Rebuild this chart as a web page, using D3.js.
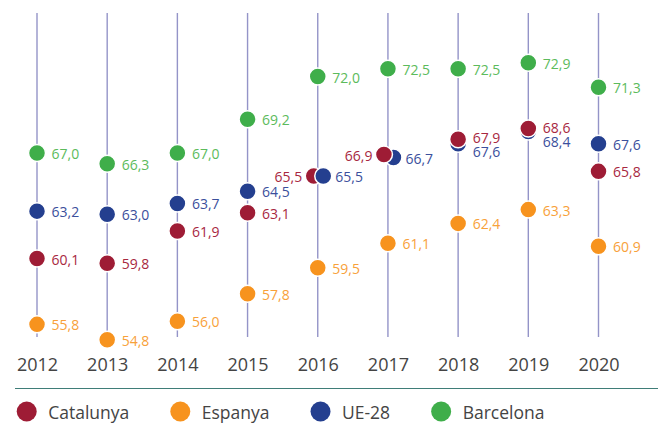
<!DOCTYPE html>
<html>
<head>
<meta charset="utf-8">
<script src="https://cdn.jsdelivr.net/npm/d3@7"></script>
<style>
  html, body { margin: 0; padding: 0; background: #fff; }
  svg { display: block; font-family: "Open Sans", sans-serif; }
</style>
</head>
<body>
<svg id="chart" width="662" height="423"></svg>
<script>
// ---- data ----
const years = ["2012", "2013", "2014", "2015", "2016", "2017", "2018", "2019", "2020"];
const catalunya = [60.1, 59.8, 61.9, 63.1, 65.5, 66.9, 67.9, 68.6, 65.8];
const espanya   = [55.8, 54.8, 56.0, 57.8, 59.5, 61.1, 62.4, 63.3, 60.9];
const ue28      = [63.2, 63.0, 63.7, 64.5, 65.5, 66.7, 67.6, 68.4, 67.6];
const barcelona = [67.0, 66.3, 67.0, 69.2, 72.0, 72.5, 72.5, 72.9, 71.3];
const seriesNames = ["Catalunya", "Espanya", "UE-28", "Barcelona"];

// ---- styles / layout ----
const circleColors = { "Catalunya": "#9e1c35", "Espanya": "#f7931e", "UE-28": "#243f8f", "Barcelona": "#3fae4a" };
const labelColors  = { "Catalunya": "#a8283f", "Espanya": "#f8a13a", "UE-28": "#3b4f9c", "Barcelona": "#5cbb5c" };
const sideBySideYears = new Set(["2016", "2017"]); // overlapping pairs drawn side by side

const svg = d3.select("#chart");
const x = d3.scalePoint().domain(years).range([37, 598.5]);
const y = d3.scaleLinear().domain([54, 74]).range([351.9, 45.9]);

const locale = d3.formatLocale({ decimal: ",", thousands: ".", grouping: [3], currency: ["", "€"] });
const fmt = locale.format(".1f");

// vertical guide lines
svg.append("g").selectAll("line").data(years).join("line")
  .attr("x1", d => x(d)).attr("x2", d => x(d))
  .attr("y1", 13).attr("y2", 337)
  .attr("stroke", "#9494c8").attr("stroke-width", 1.4);

// year axis labels
const xAxis = d3.axisBottom(x).tickSize(0).tickPadding(0);
const gx = svg.append("g").attr("transform", "translate(0,354.5)").call(xAxis);
gx.select(".domain").remove();
gx.selectAll("text").attr("font-size", 18).attr("fill", "#444").attr("font-weight", 400)
  .attr("font-family", "'Open Sans', sans-serif").attr("dy", "0.9em");

// build points
const seriesData = { "Catalunya": catalunya, "Espanya": espanya, "UE-28": ue28, "Barcelona": barcelona };
const R = 8.5;
let points = [];
years.forEach((yr, i) => {
  const cx0 = x(yr);
  const pts = {};
  seriesNames.forEach(s => {
    pts[s] = { year: yr, series: s, value: seriesData[s][i], cx: cx0, cy: y(seriesData[s][i]),
               anchor: "start", lx: cx0 + 14.5, ly: y(seriesData[s][i]) + 0.5, order: 0 };
  });
  const red = pts["Catalunya"], blue = pts["UE-28"];
  if (sideBySideYears.has(yr)) {
    red.cx = cx0 - 4; blue.cx = cx0 + 5.5;
    red.anchor = "end"; red.lx = red.cx - 11.5;
    blue.lx = blue.cx + 12;
  } else if (Math.abs(red.cy - blue.cy) < 14) {
    // stacked: push labels apart
    const top = red.cy <= blue.cy ? red : blue, bot = top === red ? blue : red;
    top.ly = top.cy - 1.5;
    bot.ly = Math.max(bot.cy, top.ly + 14);
  }
  // drawing order: equal values -> UE-28 on top, otherwise Catalunya on top
  if (red.value === blue.value) { red.order = 1; blue.order = 2; }
  else { blue.order = 1; red.order = 2; }
  seriesNames.forEach(s => points.push(pts[s]));
});
points.sort((a, b) => a.order - b.order);

svg.append("g").selectAll("circle").data(points).join("circle")
  .attr("cx", d => d.cx).attr("cy", d => d.cy).attr("r", R)
  .attr("fill", d => circleColors[d.series])
  .attr("stroke", "#fff").attr("stroke-width", 1.5);

svg.append("g").selectAll("text").data(points).join("text")
  .attr("x", d => d.lx).attr("y", d => d.ly)
  .attr("text-anchor", d => d.anchor)
  .attr("dominant-baseline", "central")
  .attr("font-size", 14)
  .attr("fill", d => labelColors[d.series])
  .text(d => fmt(d.value));

// separator rule
svg.append("line").attr("x1", 15).attr("x2", 658).attr("y1", 388.5).attr("y2", 388.5)
  .attr("stroke", "#3f7d78").attr("stroke-width", 1.2);

// legend
const lg = svg.append("g");
let lx = 26.7;
seriesNames.forEach(s => {
  lg.append("circle").attr("cx", lx).attr("cy", 411.5).attr("r", 10).attr("fill", circleColors[s]);
  const t = lg.append("text").attr("x", lx + 21.5).attr("y", 411.5)
    .attr("dominant-baseline", "central").attr("font-size", 17.5).attr("fill", "#444").text(s);
  lx = lx + 21.5 + t.node().getComputedTextLength() + 51;
});
</script>
</body>
</html>
